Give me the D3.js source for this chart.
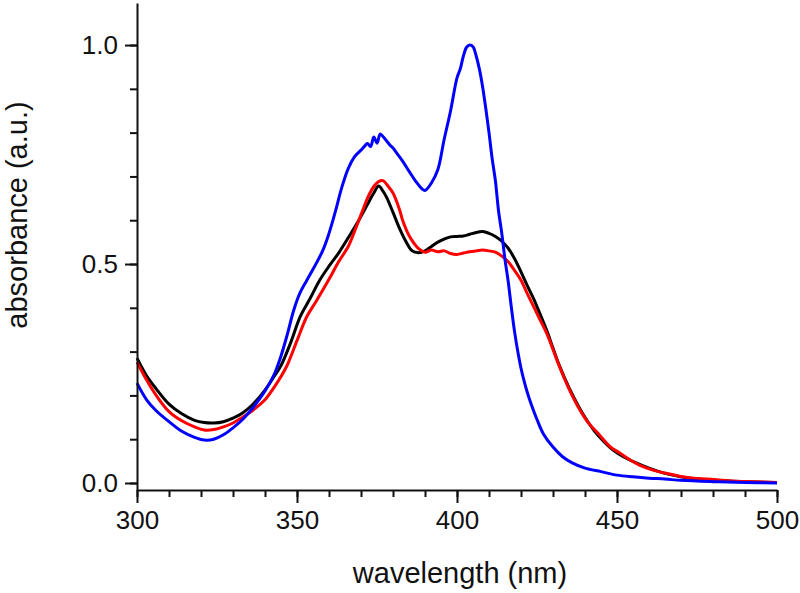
<!DOCTYPE html>
<html>
<head>
<meta charset="utf-8">
<script src="https://cdn.jsdelivr.net/npm/d3@7"></script>
<style>
  body { margin: 0; background: #fff; }
  svg text { font-family: "Liberation Sans", Arial, sans-serif; fill: #111; }
</style>
</head>
<body>
<svg id="chart" width="800" height="593"></svg>
<script>
// wavelength (nm) / absorbance pairs
const blueWl = [300, 303, 306, 310, 314, 318, 321, 324, 327, 330, 333, 336, 340, 343, 345, 347, 349, 351, 353, 355, 358,
  360, 362, 364, 366, 368, 370, 371, 372, 373, 374, 375, 376, 377, 378, 379, 380, 381, 383, 385, 387,
  389, 390, 392, 394, 396, 398, 400, 401, 402, 403, 404, 405, 406, 407, 408, 409, 410, 411, 412, 413,
  414, 415, 416, 417, 418, 419, 420, 421, 422, 423, 425, 427, 430, 433, 436, 440, 445, 450, 455, 460,
  465, 470, 480, 490, 500]
const blueAbs = [0.228, 0.19, 0.165, 0.140, 0.118, 0.104, 0.098, 0.100, 0.110, 0.126, 0.145, 0.170, 0.210, 0.250, 0.290, 0.340, 0.395, 0.435, 0.462, 0.488, 0.530,
  0.570, 0.620, 0.675, 0.718, 0.745, 0.760, 0.768, 0.775, 0.768, 0.790, 0.776, 0.797, 0.790, 0.781, 0.772, 0.765, 0.755, 0.735, 0.712, 0.690,
  0.672, 0.668, 0.685, 0.715, 0.785, 0.850, 0.925, 0.945, 0.975, 0.995, 1.000, 0.996, 0.975, 0.945, 0.905, 0.855, 0.800, 0.740, 0.690, 0.620,
  0.570, 0.510, 0.460, 0.400, 0.345, 0.300, 0.262, 0.232, 0.206, 0.184, 0.145, 0.112, 0.082, 0.060, 0.046, 0.034, 0.026, 0.018, 0.014, 0.011,
  0.009, 0.006, 0.003, 0.001, 0.000]

const blackWl = [300, 303, 306, 310, 314, 318, 321, 324, 327, 330, 333, 336, 340, 343, 345, 348, 351, 354, 357, 360,
  363, 366, 369, 372, 374, 375.5, 377, 378, 380, 382, 384, 386, 388, 390, 392, 394, 396, 398, 400, 402,
  404, 406, 408, 410, 412, 414, 416, 418, 420, 422, 424, 426, 428, 430, 432, 435, 438, 440, 443, 446,
  449, 452, 456, 460, 465, 470, 475, 480, 490, 500]
const blackAbs = [0.285, 0.245, 0.215, 0.180, 0.158, 0.143, 0.138, 0.137, 0.140, 0.148, 0.160, 0.178, 0.212, 0.245, 0.268, 0.320, 0.380, 0.420, 0.462, 0.495,
  0.525, 0.560, 0.596, 0.636, 0.662, 0.678, 0.665, 0.652, 0.618, 0.582, 0.552, 0.530, 0.526, 0.530, 0.540, 0.550, 0.557, 0.562, 0.563, 0.564,
  0.568, 0.572, 0.574, 0.570, 0.563, 0.552, 0.536, 0.512, 0.482, 0.450, 0.420, 0.385, 0.349, 0.308, 0.268, 0.218, 0.175, 0.150, 0.118, 0.094,
  0.074, 0.060, 0.046, 0.034, 0.022, 0.014, 0.009, 0.006, 0.003, 0.001]

const redWl = [300, 303, 306, 310, 314, 318, 321, 324, 327, 330, 333, 336, 340, 343, 345, 347, 350, 353, 356, 360,
  363, 366, 368, 370.5, 372, 374, 375.5, 377, 378, 380, 382, 383, 385, 386.5, 388, 390, 392, 394, 396, 398,
  400, 402, 404, 406, 408, 410, 412, 414, 416, 418, 420, 422, 424, 426, 428, 430, 432, 435, 438, 441,
  444, 448, 451, 454, 457, 461, 466, 470, 474, 478, 482, 487, 492, 500]
const redAbs = [0.276, 0.235, 0.200, 0.163, 0.142, 0.128, 0.121, 0.122, 0.128, 0.137, 0.150, 0.165, 0.190, 0.220, 0.243, 0.270, 0.325, 0.379, 0.415, 0.465,
  0.505, 0.540, 0.575, 0.622, 0.650, 0.677, 0.688, 0.690, 0.682, 0.662, 0.625, 0.600, 0.565, 0.548, 0.535, 0.527, 0.532, 0.528, 0.530, 0.524,
  0.522, 0.525, 0.528, 0.530, 0.532, 0.530, 0.527, 0.518, 0.505, 0.485, 0.463, 0.432, 0.402, 0.372, 0.342, 0.305, 0.266, 0.215, 0.172, 0.138,
  0.114, 0.082, 0.068, 0.053, 0.041, 0.030, 0.021, 0.015, 0.011, 0.009, 0.007, 0.004, 0.003, 0.001]

const xMajor = [300, 350, 400, 450, 500]
const yMajor = [0, 0.5, 1.0]

const svg = d3.select('#chart')

const x = d3.scaleLinear().domain([300, 500]).range([137, 777])
const y = d3.scaleLinear().domain([-0.016, 1.096]).range([490, 3])

const series = [
  { wl: blackWl, abs: blackAbs, color: '#000000' },
  { wl: redWl, abs: redAbs, color: '#ff0000' },
  { wl: blueWl, abs: blueAbs, color: '#0000ff' }
]

const line = d3.line()
  .x(d => x(d[0]))
  .y(d => y(d[1]))
  .curve(d3.curveCatmullRom.alpha(0.5))

svg.selectAll('.spectrum')
  .data(series)
  .enter()
  .append('path')
  .attr('class', 'spectrum')
  .attr('fill', 'none')
  .attr('stroke', d => d.color)
  .attr('stroke-width', 3)
  .attr('stroke-linejoin', 'round')
  .attr('d', d => line(d.wl.map((w, i) => [w, d.abs[i]])))

// minor ticks first, then the major axis with labels on top
svg.append('g')
  .attr('transform', 'translate(0,490)')
  .call(d3.axisBottom(x).tickValues(d3.range(300, 501, 10)).tickSize(7).tickFormat(''))
  .call(g => g.select('.domain').remove())

const xAxis = svg.append('g')
  .attr('transform', 'translate(0,490)')
  .call(d3.axisBottom(x).tickValues(xMajor).tickSize(13).tickSizeOuter(0).tickPadding(8))

svg.append('g')
  .attr('transform', 'translate(137,0)')
  .call(d3.axisLeft(y).tickValues(d3.range(0, 11).map(i => i / 10)).tickSize(7).tickFormat(''))
  .call(g => g.select('.domain').remove())

const yAxis = svg.append('g')
  .attr('transform', 'translate(137,0)')
  .call(d3.axisLeft(y).tickValues(yMajor).tickSize(12).tickSizeOuter(0).tickPadding(7).tickFormat(d3.format('.1f')))

svg.selectAll('.tick line').attr('stroke', '#111').attr('stroke-width', 2)
svg.selectAll('.domain').attr('stroke', '#111').attr('stroke-width', 2)
xAxis.selectAll('text').attr('font-size', 26).attr('dy', '0.71em')
yAxis.selectAll('text').attr('font-size', 26)

svg.append('text')
  .attr('x', 460)
  .attr('y', 583)
  .attr('text-anchor', 'middle')
  .attr('font-size', 29)
  .text('wavelength (nm)')

svg.append('text')
  .attr('transform', 'translate(27,215) rotate(-90)')
  .attr('text-anchor', 'middle')
  .attr('font-size', 29)
  .text('absorbance (a.u.)')
</script>
</body>
</html>
